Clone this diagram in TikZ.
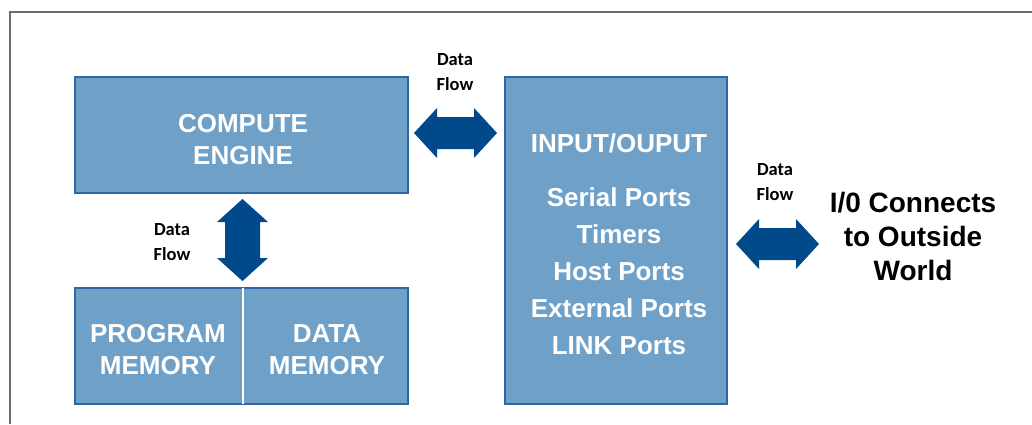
\documentclass[tikz,border=0pt]{standalone}
\usepackage{fontspec}
\setmainfont{Liberation Sans}
\newfontfamily\labelfont{Carlito}
\usetikzlibrary{calc}

\definecolor{boxfill}{RGB}{111,160,199}
\definecolor{boxline}{RGB}{46,104,164}
\definecolor{flowblue}{RGB}{0,74,139}
\definecolor{framegray}{RGB}{110,110,110}

\tikzset{
  unitbox/.style={draw=boxline, fill=boxfill, line width=2pt, inner sep=0pt},
  boxtext/.style={text=white, font=\fontsize{26}{32}\selectfont\bfseries, align=center, inner sep=0pt},
  listtext/.style={text=white, font=\fontsize{26}{37}\selectfont\bfseries, align=center, inner sep=0pt},
  flowlabel/.style={text=black, font=\labelfont\bfseries\fontsize{18.5}{25}\selectfont, align=center, inner sep=0pt},
  outtext/.style={text=black, font=\fontsize{28}{34}\selectfont\bfseries, align=center, inner sep=0pt},
  flowarrow/.style={fill=flowblue},
}

% double-headed block arrows between two tip points
\newcommand\harrowfill[2]{%
  \fill[flowarrow] let \p1=#1, \p2=#2 in
    (\x1,\y1) -- (\x1+23pt,\y1+25pt) -- (\x1+23pt,\y1+16pt) -- (\x2-23pt,\y1+16pt)
    -- (\x2-23pt,\y1+25pt) -- (\x2,\y1) -- (\x2-23pt,\y1-25pt) -- (\x2-23pt,\y1-16pt)
    -- (\x1+23pt,\y1-16pt) -- (\x1+23pt,\y1-25pt) -- cycle;}
\newcommand\varrowfill[2]{%
  \fill[flowarrow] let \p1=#1, \p2=#2 in
    (\x1,\y1) -- (\x1+25.5pt,\y1-23pt) -- (\x1+17.5pt,\y1-23pt) -- (\x1+17.5pt,\y2+23pt)
    -- (\x1+25.5pt,\y2+23pt) -- (\x1,\y2) -- (\x1-25.5pt,\y2+23pt) -- (\x1-17.5pt,\y2+23pt)
    -- (\x1-17.5pt,\y1-23pt) -- (\x1-25.5pt,\y1-23pt) -- cycle;}

\begin{document}
\begin{tikzpicture}[x=1pt, y=-1pt]
\useasboundingbox (0,0) rectangle (1032,424);

% outer frame
\draw[framegray, line width=2pt] (10,424) -- (10,12) -- (1032,12);

% blocks
\node[unitbox, minimum width=333pt, minimum height=116pt] (ce) at (241.5,135) {};
\node[unitbox, minimum width=333pt, minimum height=116pt] (mem) at (241.5,346) {};
\node[unitbox, minimum width=222pt, minimum height=327pt] (io) at (616,240.5) {};
\draw[white, line width=1.5pt] ($(mem.north)+(1.5,1)$) coordinate (divtop) -- ($(mem.south)+(1.5,-1)$) coordinate (divbot);

% block texts
\node[boxtext] (cetext) at (243,140) {COMPUTE\\ENGINE};
\node[boxtext] (pmtext) at (158,350) {PROGRAM\\MEMORY};
\node[boxtext] (dmtext) at (327,350) {DATA\\MEMORY};
\node[boxtext] (iotitle) at (619,143) {INPUT/OUPUT};
\node[listtext] (iolist) at (619,271) {Serial Ports\\Timers\\Host Ports\\External Ports\\LINK Ports};

% outside world
\node[outtext] (world) at (913,236) {I/0 Connects\\to Outside\\World};

% data flow arrows
\coordinate (a1l) at ($(ce.east |- 0,133)+(5,0)$);
\coordinate (a1r) at ($(io.west |- 0,133)+(-7,0)$);
\harrowfill{(a1l)}{(a1r)}
\coordinate (a2t) at ($(ce.south)+(1,5)$);
\coordinate (a2b) at ($(mem.north)+(1,-6)$);
\varrowfill{(a2t)}{(a2b)}
\coordinate (a3l) at ($(io.east |- 0,244)+(8,0)$);
\coordinate (a3r) at ($(io.east |- 0,244)+(91,0)$);
\harrowfill{(a3l)}{(a3r)}

% data flow labels
\node[flowlabel] (l1) at (455,72) {Data\\Flow};
\node[flowlabel] (l2) at (172,242) {Data\\Flow};
\node[flowlabel] (l3) at (775,182) {Data\\Flow};
\end{tikzpicture}
\end{document}
